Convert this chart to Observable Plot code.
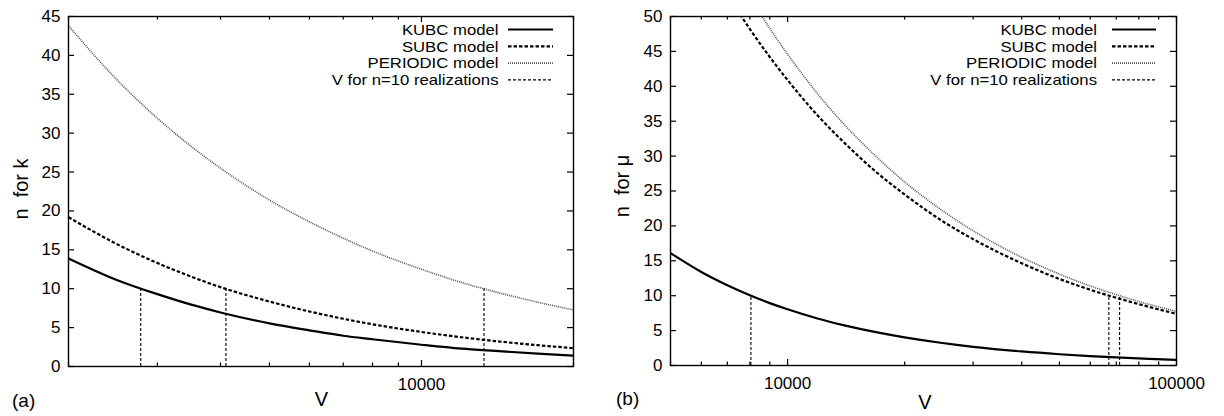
<!DOCTYPE html>
<html><head><meta charset="utf-8">
<script src="https://cdn.jsdelivr.net/npm/d3@7"></script>
<script src="https://cdn.jsdelivr.net/npm/@observablehq/plot@0.6"></script>
<style>
html,body{margin:0;padding:0;background:#fff;}
#wrap{position:relative;width:1224px;height:416px;overflow:hidden;}
#wrap svg{position:absolute;top:0;}
</style></head><body><div id="wrap"></div>
<script>
// ---- Panel (a): n for k ----
const leftV      = [2000, 2500, 3000, 3500, 4000, 5000, 6000, 7000, 8000, 10000, 12000, 14000, 17000, 20000];
const leftKUBC   = [13.9, 11.1, 9.3, 7.95, 6.95, 5.55, 4.65, 3.95, 3.5, 2.8, 2.3, 2.0, 1.65, 1.4];
const leftSUBC   = [19.2, 15.7, 13.3, 11.55, 10.2, 8.35, 7.07, 6.14, 5.43, 4.44, 3.76, 3.27, 2.74, 2.36];
const leftPER    = [43.8, 36.8, 31.9, 28.3, 25.5, 21.4, 18.6, 16.5, 14.85, 12.5, 10.8, 9.6, 8.26, 7.27];
const leftN10V   = [2780, 4100, 13300];
const leftXMajor = [10000];
const leftXMinor = [2000, 3000, 4000, 5000, 6000, 7000, 8000, 9000, 20000];
const leftYTicks = [0, 5, 10, 15, 20, 25, 30, 35, 40, 45];

// ---- Panel (b): n for mu ----
const rightV      = [5000, 6000, 7000, 8000, 9000, 10000, 12000, 14000, 17000, 20000, 25000, 30000, 40000, 50000, 60000, 70000, 85000, 100000];
const rightKUBC   = [16.1, 13.4, 11.5, 10.06, 8.94, 8.05, 6.7, 5.75, 4.74, 4.03, 3.22, 2.68, 2.01, 1.61, 1.34, 1.15, 0.95, 0.8];
const rightSUBC   = [68.2, 59.7, 53.2, 48.2, 44.2, 40.9, 35.7, 31.9, 27.6, 24.5, 20.7, 18.1, 14.65, 12.4, 10.85, 9.7, 8.4, 7.4];
const rightPER    = [75.4, 65.7, 58.4, 52.8, 48.3, 44.6, 38.8, 34.5, 29.8, 26.3, 22.2, 19.3, 15.5, 13.1, 11.4, 10.15, 8.76, 7.74];
const rightN10V   = [8050, 67000, 71400];
const rightXMajor = [10000, 100000];
const rightXMinor = [5000, 6000, 7000, 8000, 9000, 20000, 30000, 40000, 50000, 60000, 70000, 80000, 90000];
const rightYTicks = [0, 5, 10, 15, 20, 25, 30, 35, 40, 45, 50];

const legendLabels = ["KUBC model", "SUBC model", "PERIODIC model", "V for n=10 realizations"];

const FONT = '"Liberation Sans", Arial, Helvetica, sans-serif';
const styles = {
  KUBC: {stroke: "#000", strokeWidth: 2.2, strokeLinecap: "butt"},
  SUBC: {stroke: "#000", strokeWidth: 2.2, strokeDasharray: "3.5,2", strokeLinecap: "butt"},
  PER:  {stroke: "#555", strokeWidth: 1.6, strokeDasharray: "1,1", strokeLinecap: "butt"},
  N10:  {stroke: "#000", strokeWidth: 1.1, strokeDasharray: "3,2", strokeLinecap: "butt"}
};

function panel(cfg) {
  const fw = cfg.width - cfg.ml - cfg.mr;
  const fh = cfg.height - cfg.mt - cfg.mb;
  const rows = (vals) => cfg.V.map((v, i) => ({V: v, n: vals[i]}));
  return Plot.plot({
    width: cfg.width, height: cfg.height,
    marginLeft: cfg.ml, marginRight: cfg.mr, marginTop: cfg.mt, marginBottom: cfg.mb,
    style: {fontFamily: FONT, fontSize: "17px", color: "#000", background: "transparent"},
    x: {type: "log", domain: cfg.xDomain},
    y: {domain: cfg.yDomain},
    marks: [
      Plot.line(rows(cfg.per),  {x: "V", y: "n", curve: "monotone-x", clip: true, ...styles.PER}),
      Plot.line(rows(cfg.subc), {x: "V", y: "n", curve: "monotone-x", clip: true, ...styles.SUBC}),
      Plot.line(rows(cfg.kubc), {x: "V", y: "n", curve: "monotone-x", clip: true, ...styles.KUBC}),
      Plot.ruleX(cfg.n10, {x: d => d, y1: 0, y2: 10, ...styles.N10}),
      // inward ticks (gnuplot style), mirrored on all sides
      Plot.tickX(cfg.xMajor, {x: d => d, insetTop: fh - 6, stroke: "#000", strokeWidth: 1.2}),
      Plot.tickX(cfg.xMajor, {x: d => d, insetBottom: fh - 6, stroke: "#000", strokeWidth: 1.2}),
      Plot.tickX(cfg.xMinor, {x: d => d, insetTop: fh - 3.5, stroke: "#000", strokeWidth: 1.2}),
      Plot.tickX(cfg.xMinor, {x: d => d, insetBottom: fh - 3.5, stroke: "#000", strokeWidth: 1.2}),
      Plot.tickY(cfg.yTicks, {y: d => d, insetRight: fw - 6, stroke: "#000", strokeWidth: 1.2}),
      Plot.tickY(cfg.yTicks, {y: d => d, insetLeft: fw - 6, stroke: "#000", strokeWidth: 1.2}),
      Plot.axisX(cfg.xMajor, {tickSize: 0, tickPadding: 11, tickFormat: d => String(d), label: null}),
      Plot.axisY(cfg.yTicks, {tickSize: 0, tickPadding: 8, tickFormat: d => String(d), label: null}),
      Plot.frame({stroke: "#000", strokeWidth: 1.4})
    ]
  });
}

const wrap = document.getElementById("wrap");

const left = panel({
  width: 600, height: 416, ml: 68, mr: 27, mt: 16, mb: 50,
  xDomain: [2000, 20000], yDomain: [0, 45],
  V: leftV, kubc: leftKUBC, subc: leftSUBC, per: leftPER, n10: leftN10V,
  xMajor: leftXMajor, xMinor: leftXMinor, yTicks: leftYTicks
});
left.style.left = "0px";
wrap.appendChild(left);

const right = panel({
  width: 624, height: 416, ml: 70, mr: 48, mt: 16, mb: 51,
  xDomain: [5000, 100000], yDomain: [0, 50],
  V: rightV, kubc: rightKUBC, subc: rightSUBC, per: rightPER, n10: rightN10V,
  xMajor: rightXMajor, xMinor: rightXMinor, yTicks: rightYTicks
});
right.style.left = "600px";
wrap.appendChild(right);

// ---- overlay: axis titles, panel letters, legends ----
const NS = "http://www.w3.org/2000/svg";
const ov = document.createElementNS(NS, "svg");
ov.setAttribute("width", 1224); ov.setAttribute("height", 416);
ov.style.left = "0px"; ov.style.fontFamily = FONT;
wrap.appendChild(ov);
function txt(s, attrs, size, parent = ov) {
  const t = document.createElementNS(NS, "text");
  t.textContent = s;
  t.setAttribute("font-size", size);
  t.setAttribute("fill", "#000");
  t.style.whiteSpace = "pre";
  for (const k in attrs) t.setAttribute(k, attrs[k]);
  parent.appendChild(t);
}
function ln(x1, x2, y, st) {
  const l = document.createElementNS(NS, "line");
  l.setAttribute("x1", x1); l.setAttribute("x2", x2);
  l.setAttribute("y1", y); l.setAttribute("y2", y);
  l.setAttribute("stroke", st.stroke);
  l.setAttribute("stroke-width", st.strokeWidth);
  if (st.strokeDasharray) l.setAttribute("stroke-dasharray", st.strokeDasharray);
  ov.appendChild(l);
}
txt("n  for k", {transform: "translate(28,189) rotate(-90)", "text-anchor": "middle"}, 20);
txt("n  for \u03bc", {transform: "translate(629,186) rotate(-90)", "text-anchor": "middle"}, 20);
txt("V", {x: 321.5, y: 406, "text-anchor": "middle"}, 20);
txt("V", {x: 925, y: 409, "text-anchor": "middle"}, 20);
txt("(a)", {x: 12, y: 407}, 19);
txt("(b)", {x: 616, y: 405}, 19);

const legStyles = [styles.KUBC, styles.SUBC, styles.PER, styles.N10];
function legend(textRight, x1, x2) {
  legendLabels.forEach((s, i) => {
    const cy = 29.5 + i * 16.8;
    const g = document.createElementNS(NS, "g");
    g.setAttribute("transform", `translate(${textRight},${cy + 5.3}) scale(1.13,1)`);
    ov.appendChild(g);
    txt(s, {x: 0, y: 0, "text-anchor": "end"}, 14.8, g);
    ln(x1, x2, cy, legStyles[i]);
  });
}
legend(498.5, 508, 553);
legend(1097, 1112, 1156);
</script></body></html>
